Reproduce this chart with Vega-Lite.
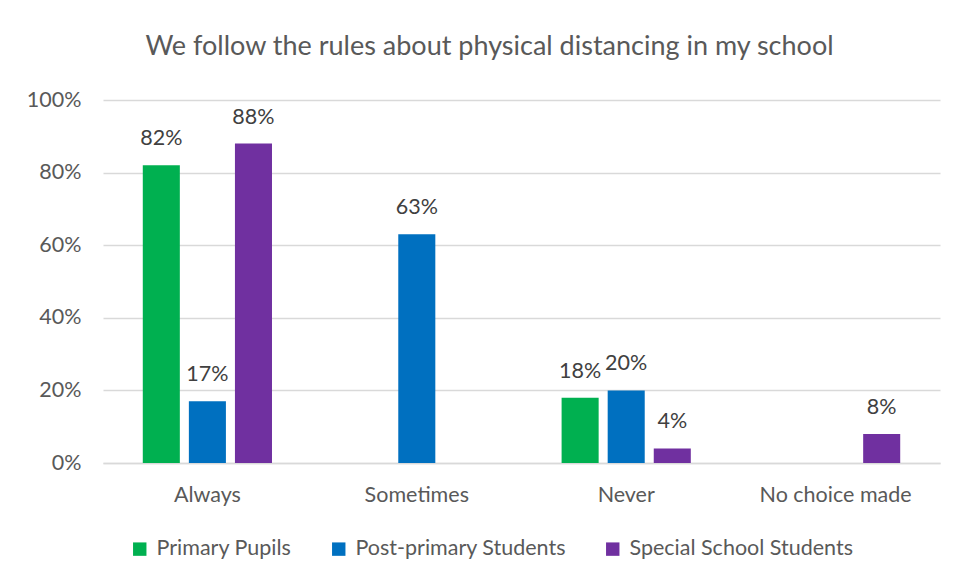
{
  "$schema": "https://vega.github.io/schema/vega-lite/v6.json",
  "width": 837,
  "height": 363,
  "autosize": {"type": "none"},
  "padding": {"left": 103, "top": 100, "right": 23, "bottom": 118},
  "background": "white",
  "title": {
    "text": "We follow the rules about physical distancing in my school",
    "font": "Lato",
    "fontSize": 27,
    "fontWeight": "normal",
    "color": "#595959",
    "anchor": "middle",
    "frame": "group",
    "dx": -32,
    "offset": 28
  },
  "config": {
    "view": {"stroke": null},
    "font": "Lato",
    "axis": {"labelFont": "Lato", "labelFontSize": 21.5, "labelColor": "#595959"},
    "legend": {"labelFont": "Lato", "labelFontSize": 21.5, "labelColor": "#595959"}
  },
  "data": {
    "values": [
      {"category": "Always", "group": "Primary Pupils", "value": 0.82},
      {"category": "Always", "group": "Post-primary Students", "value": 0.17},
      {"category": "Always", "group": "Special School Students", "value": 0.88},
      {"category": "Sometimes", "group": "Post-primary Students", "value": 0.63},
      {"category": "Never", "group": "Primary Pupils", "value": 0.18},
      {"category": "Never", "group": "Post-primary Students", "value": 0.20},
      {"category": "Never", "group": "Special School Students", "value": 0.04},
      {"category": "No choice made", "group": "Special School Students", "value": 0.08}
    ]
  },
  "encoding": {
    "x": {
      "field": "category",
      "type": "nominal",
      "sort": ["Always", "Sometimes", "Never", "No choice made"],
      "scale": {"paddingInner": 0.383, "paddingOuter": 0.19},
      "axis": {"title": null, "labelAngle": 0, "ticks": false, "domain": true, "domainColor": "#d9d9d9", "domainWidth": 1.5, "labelPadding": 21}
    },
    "xOffset": {
      "field": "group",
      "type": "nominal",
      "sort": ["Primary Pupils", "Post-primary Students", "Special School Students"],
      "scale": {"paddingInner": 0.196, "paddingOuter": 0}
    },
    "y": {
      "field": "value",
      "type": "quantitative",
      "scale": {"domain": [0, 1]},
      "axis": {"title": null, "format": ".0%", "values": [0, 0.2, 0.4, 0.6, 0.8, 1], "labelOverlap": false, "ticks": false, "domain": false, "gridColor": "#d9d9d9", "gridWidth": 1.5, "labelPadding": 22}
    },
    "color": {
      "field": "group",
      "type": "nominal",
      "sort": ["Primary Pupils", "Post-primary Students", "Special School Students"],
      "scale": {"domain": ["Primary Pupils", "Post-primary Students", "Special School Students"], "range": ["#00b050", "#0070c0", "#7030a0"]},
      "legend": {"title": null, "orient": "none", "legendX": 26, "legendY": 438, "direction": "horizontal", "symbolType": "square", "symbolSize": 180, "symbolStrokeWidth": 0, "columnPadding": 36, "labelOffset": 6, "labelLimit": 400}
    }
  },
  "layer": [
    {"mark": {"type": "bar"}},
    {
      "mark": {"type": "text", "dy": -26, "fontSize": 21.5, "color": "#404040", "font": "Lato"},
      "encoding": {"text": {"field": "value", "type": "quantitative", "format": ".0%"}, "color": {"value": "#404040"}}
    }
  ]
}
